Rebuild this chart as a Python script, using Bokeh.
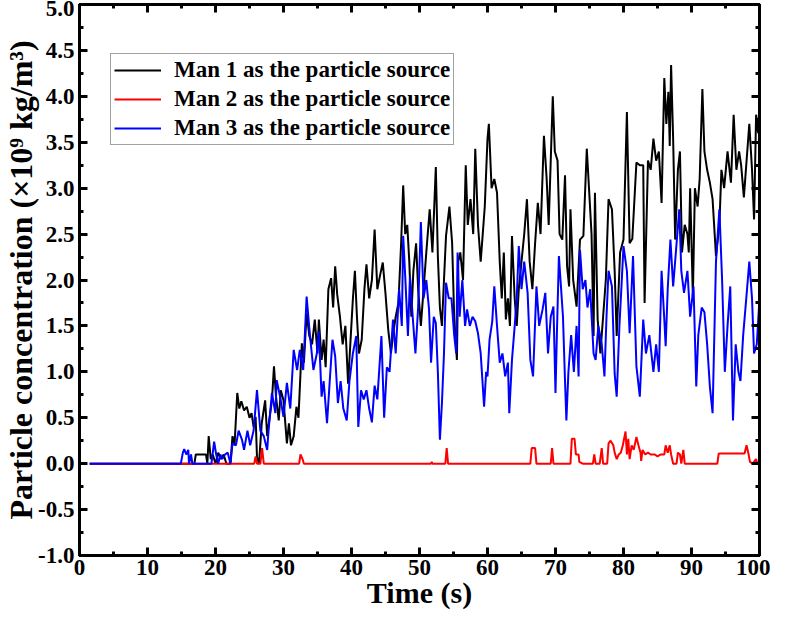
from bokeh.plotting import figure
from bokeh.models import (Range1d, LinearAxis, SingleIntervalTicker, NumeralTickFormatter,
                          CustomJSTickFormatter, Legend, LegendItem)
from bokeh.embed import file_html
from bokeh.resources import INLINE

# ---------------- data ----------------
series_names = ["Man 1 as the particle source",
                "Man 2 as the particle source",
                "Man 3 as the particle source"]

# Man 1 (black)
t1 = [1.5, 16.9, 17.1, 18.6, 18.8, 19.0, 19.3, 19.6, 20.0, 20.4, 20.8, 21.2, 21.6, 22.2,
      22.5, 22.8, 23.2, 23.5, 23.8, 24.2, 24.6, 25.0, 25.3, 25.6, 25.9, 26.1, 26.4, 26.8,
      27.3, 27.6, 27.9, 28.3, 28.6, 28.9, 29.3, 29.6, 30.0, 30.5, 30.8, 31.1, 31.5, 31.9,
      32.2, 32.7, 33.0, 33.4, 33.8, 34.2, 34.6, 35.0, 35.2, 35.6, 35.9, 36.2, 36.6, 37.0,
      37.3, 37.6, 37.9, 38.3, 38.7, 39.1, 39.5, 39.9, 40.2, 40.5, 40.8, 41.1, 41.5, 41.9,
      42.2, 42.6, 43.0, 43.4, 43.8, 44.2, 44.6, 45.0, 45.4, 45.8, 46.1, 46.5, 46.9, 47.3,
      47.6, 47.9, 48.2, 48.5, 48.8, 49.1, 49.5, 49.8, 50.2, 50.6, 51.0, 51.5, 51.9, 52.4,
      52.7, 53.0, 53.3, 53.6, 53.9, 54.4, 54.8, 55.1, 55.5, 55.7, 56.0, 56.4, 56.8, 57.1,
      57.5, 57.9, 58.2, 58.6, 59.0, 59.3, 59.6, 60.0, 60.2, 60.6, 61.0, 61.4, 61.8, 62.1,
      62.4, 62.7, 63.0, 63.3, 63.6, 64.0, 64.3, 64.6, 65.0, 65.4, 65.8, 66.2, 66.6, 67.0,
      67.4, 67.8, 68.3, 68.7, 69.0, 69.3, 69.6, 69.9, 70.3, 70.6, 71.0, 71.4, 71.7, 72.0,
      72.2, 72.6, 73.1, 73.6, 74.1, 74.6, 75.0, 75.3, 75.6, 75.8, 76.2, 76.6, 77.0, 77.4,
      77.8, 78.3, 78.7, 79.0, 79.5, 80.0, 80.5, 80.9, 81.3, 81.9, 82.4, 82.9, 83.1, 83.6,
      84.0, 84.4, 84.8, 85.2, 85.6, 86.0, 86.3, 86.6, 86.8, 87.0, 87.3, 87.6, 88.0, 88.3,
      88.6, 89.0, 89.4, 89.6, 89.8, 90.2, 90.5, 90.9, 91.2, 91.6, 91.9, 92.3, 92.7, 93.1,
      93.6, 94.1, 94.4, 94.8, 95.3, 95.8, 96.2, 96.6, 97.0, 97.3, 97.7, 98.1, 98.5, 98.9,
      99.2, 99.5, 99.8, 100.0]
v1 = [0.0, 0.0, 0.1, 0.1, 0.0, 0.3, 0.05, 0.1, 0.0, 0.12, 0.05, 0.1, 0.0, 0.0,
      0.3, 0.2, 0.77, 0.6, 0.68, 0.58, 0.62, 0.5, 0.55, 0.4, 0.51, 0.07, 0.0, 0.44,
      0.69, 0.3, 0.47, 0.69, 1.06, 0.73, 0.47, 0.8, 0.69, 0.22, 0.44, 0.2, 0.3, 0.62,
      0.5, 1.31, 1.1, 1.64, 1.39, 1.3, 1.57, 1.2, 1.57, 1.13, 1.35, 1.05, 1.9, 2.02,
      1.7, 2.15, 1.84, 1.6, 1.3, 1.5, 0.87, 1.4, 1.79, 2.1, 1.6, 1.2, 1.35, 1.9,
      2.17, 1.8, 2.0, 2.55, 1.9, 2.05, 2.19, 1.85, 1.46, 1.2, 1.4, 1.6, 1.75, 2.4,
      3.03, 2.5, 2.6, 2.2, 1.6, 2.1, 2.4, 1.9, 1.5, 1.9, 2.3, 2.77, 2.3, 3.23,
      2.26, 1.7, 1.5, 2.0, 2.48, 2.8, 2.4, 1.6, 1.13, 2.2, 2.3, 2.0, 3.25, 2.6,
      2.88, 2.5, 3.43, 2.6, 2.2, 2.5, 2.8, 3.54, 3.7, 3.0, 3.1, 2.95, 2.2, 1.8,
      2.3, 1.57, 1.8, 1.5, 2.48, 1.8, 1.5, 1.9, 2.2, 2.5, 2.88, 2.2, 1.9, 2.4,
      2.84, 2.5, 3.57, 3.1, 2.6, 3.3, 4.0, 3.4, 3.3, 2.5, 2.44, 3.14, 2.15, 1.93,
      2.77, 2.0, 1.71, 2.44, 2.48, 3.43, 2.9, 2.5, 1.39, 2.95, 1.57, 1.2, 1.6, 2.0,
      2.88, 2.77, 2.1, 1.39, 2.3, 2.44, 3.83, 2.4, 2.45, 3.28, 3.25, 3.25, 1.75, 3.3,
      3.2, 3.54, 3.3, 3.4, 2.84, 4.2, 3.7, 4.05, 3.46, 4.34, 3.54, 2.44, 3.2, 3.4,
      2.3, 2.6, 2.5, 2.3, 3.0, 1.82, 3.0, 2.8, 3.1, 4.08, 3.4, 3.2, 3.06, 2.88,
      2.26, 2.6, 3.2, 3.0, 3.4, 3.06, 3.8, 3.2, 3.4, 3.25, 2.9, 3.3, 3.7, 3.2,
      2.66, 3.8, 3.6, 3.9]

# Man 2 (red)
t2 = [1.5, 25.7, 25.9, 26.1, 26.6, 26.85, 27.1, 32.3, 32.5, 32.8, 33.0, 51.7, 51.8, 51.9,
      53.8, 54.0, 54.2, 66.3, 66.5, 67.0, 67.2, 69.3, 69.5, 69.7, 72.2, 72.4, 72.8, 73.0,
      73.4, 73.5, 74.0, 75.5, 75.7, 75.9, 76.5, 76.8, 77.0, 77.6, 77.8, 78.1, 78.5, 78.7,
      79.0, 79.3, 79.6, 79.9, 80.3, 80.5, 80.7, 80.9, 81.2, 81.5, 81.9, 82.2, 82.5, 82.6,
      82.8, 83.2, 83.6, 84.0, 84.6, 85.0, 85.5, 86.0, 86.2, 86.5, 86.8, 87.0, 87.3, 87.8,
      88.0, 88.3, 88.5, 88.8, 89.0, 93.8, 94.0, 97.8, 98.1, 98.4, 98.6, 99.0, 99.5, 99.7,
      100.0]
v2 = [0.0, 0.0, 0.08, 0.0, 0.0, 0.17, 0.0, 0.0, 0.1, 0.05, 0.0, 0.0, 0.02, 0.0,
      0.0, 0.17, 0.0, 0.0, 0.17, 0.17, 0.0, 0.0, 0.17, 0.0, 0.0, 0.27, 0.27, 0.1,
      0.1, 0.02, 0.0, 0.0, 0.1, 0.0, 0.0, 0.17, 0.0, 0.0, 0.22, 0.25, 0.2, 0.12,
      0.05, 0.1, 0.12, 0.2, 0.35, 0.1, 0.27, 0.05, 0.2, 0.15, 0.29, 0.2, 0.12, 0.03,
      0.15, 0.1, 0.12, 0.1, 0.1, 0.08, 0.1, 0.1, 0.2, 0.12, 0.2, 0.1, 0.0, 0.0,
      0.12, 0.1, 0.0, 0.15, 0.0, 0.0, 0.11, 0.11, 0.2, 0.1, 0.02, 0.0, 0.05, 0.0,
      0.0]

# Man 3 (blue)
t3 = [1.5, 14.9, 15.2, 15.4, 15.7, 16.0, 16.1, 16.4, 16.6, 19.4, 19.8, 20.1, 20.4, 20.7,
      21.0, 21.4, 21.8, 22.2, 22.5, 23.0, 23.4, 23.9, 24.2, 24.7, 25.1, 25.6, 26.1, 26.6,
      27.1, 27.6, 27.8, 28.3, 28.8, 29.0, 29.5, 30.0, 30.5, 31.0, 31.5, 32.0, 32.4, 32.9,
      33.4, 33.9, 34.4, 34.9, 35.2, 35.6, 35.9, 36.4, 36.8, 37.2, 37.6, 38.0, 38.4, 38.8,
      39.3, 39.7, 40.2, 40.7, 41.0, 41.4, 41.8, 42.2, 42.6, 43.0, 43.4, 43.8, 44.4, 44.8,
      45.2, 45.6, 46.1, 46.5, 47.0, 47.4, 47.6, 47.9, 48.3, 48.6, 49.0, 49.4, 49.8, 50.2,
      50.6, 51.0, 51.4, 51.7, 52.1, 52.4, 52.7, 53.0, 53.3, 53.6, 53.9, 54.3, 54.7, 55.1,
      55.4, 55.6, 55.9, 56.3, 56.7, 57.0, 57.4, 57.8, 58.2, 58.6, 59.0, 59.5, 59.8, 60.0,
      60.3, 60.7, 61.0, 61.4, 61.8, 62.2, 62.6, 63.0, 63.2, 63.6, 64.0, 64.3, 64.6, 65.0,
      65.4, 65.9, 66.3, 66.7, 67.2, 67.6, 68.1, 68.5, 68.9, 69.3, 69.7, 70.0, 70.2, 70.5,
      70.8, 71.1, 71.4, 71.6, 71.9, 72.3, 72.7, 73.1, 73.4, 73.6, 74.0, 74.4, 74.7, 75.1,
      75.6, 75.9, 76.3, 76.8, 77.2, 77.5, 77.8, 78.3, 78.7, 79.0, 79.4, 79.7, 80.0, 80.5,
      80.9, 81.4, 81.9, 82.4, 82.9, 83.3, 83.8, 84.4, 84.8, 85.2, 85.6, 86.0, 86.2, 86.5,
      86.9, 87.3, 87.7, 88.2, 88.5, 88.9, 89.4, 89.8, 90.3, 90.7, 91.0, 91.5, 91.9, 92.3,
      92.7, 93.1, 93.6, 94.1, 94.5, 94.9, 95.3, 95.7, 96.1, 96.5, 96.9, 97.2, 97.6, 98.0,
      98.5, 98.9, 99.2, 99.6, 100.0]
v3 = [0.0, 0.0, 0.12, 0.16, 0.1, 0.15, 0.0, 0.1, 0.0, 0.0, 0.24, 0.1, 0.0, 0.1,
      0.05, 0.1, 0.12, 0.0, 0.22, 0.2, 0.36, 0.26, 0.15, 0.36, 0.2, 0.36, 0.8, 0.36,
      0.3, 0.15, 0.36, 0.77, 0.55, 0.91, 0.73, 0.51, 0.88, 0.6, 1.24, 1.02, 1.24, 1.02,
      1.82, 1.39, 1.02, 1.2, 1.44, 0.73, 0.9, 0.44, 0.9, 1.35, 1.17, 0.66, 0.9, 0.6,
      0.47, 0.9, 1.2, 1.39, 0.4, 0.8, 0.7, 0.8, 0.6, 0.45, 0.85, 0.7, 1.39, 0.5,
      1.05, 1.0, 1.57, 1.2, 1.9, 1.5, 2.48, 2.04, 1.39, 2.04, 1.6, 1.2, 1.7, 2.63,
      1.8, 2.0, 1.68, 1.1, 1.6, 1.53, 1.0, 0.26, 0.66, 1.2, 1.97, 1.8, 1.8, 1.4,
      1.2, 2.3, 1.6, 2.0, 1.5, 1.68, 1.5, 1.6, 1.55, 1.42, 1.2, 0.62, 1.0, 0.95,
      1.35, 1.55, 1.93, 1.5, 1.1, 1.2, 0.95, 1.1, 0.55, 1.13, 1.5, 1.8, 2.37, 1.9,
      2.2, 1.86, 1.13, 0.95, 1.93, 1.5, 1.68, 1.86, 1.2, 1.6, 1.71, 0.77, 1.4, 2.26,
      1.93, 1.6, 0.9, 0.47, 1.0, 1.4, 1.0, 1.5, 0.95, 2.33, 1.9, 2.0, 1.7, 1.9,
      1.2, 1.13, 1.5, 1.3, 0.95, 1.6, 2.1, 1.93, 0.98, 0.73, 1.5, 1.93, 2.37, 2.1,
      1.42, 2.26, 1.06, 0.73, 1.57, 1.2, 1.4, 1.0, 1.3, 1.0, 2.1, 1.57, 1.28, 1.9,
      2.44, 1.93, 2.3, 2.77, 2.1, 1.86, 2.1, 1.6, 1.93, 0.84, 1.4, 1.7, 1.65, 1.3,
      0.84, 0.55, 2.2, 2.77, 2.0, 1.0, 1.5, 1.93, 0.47, 1.3, 1.0, 0.9, 1.4, 1.75,
      2.2, 1.8, 1.2, 1.3, 1.8]

x_lim = (0, 100)
y_lim = (-1.0, 5.0)
x_tick_step = 10
y_tick_step = 0.5
x_title = "Time (s)"
y_title = "Particle concentration (×10⁹ kg/m³)"

# ---------------- figure ----------------
FONT = "Liberation Serif"

p = figure(width=770, height=613, output_backend="svg", toolbar_location=None,
           x_range=Range1d(*x_lim), y_range=Range1d(*y_lim),
           min_border_left=75, min_border_right=11, min_border_top=4, min_border_bottom=58,
           x_axis_label=x_title, y_axis_label=y_title)

p.xgrid.visible = False
p.ygrid.visible = False
p.outline_line_color = "black"
p.outline_line_width = 3
p.background_fill_color = "white"
p.border_fill_color = "white"

p.xaxis.ticker = SingleIntervalTicker(interval=x_tick_step, num_minor_ticks=2)
p.yaxis.ticker = SingleIntervalTicker(interval=y_tick_step, num_minor_ticks=2)
p.yaxis.formatter = NumeralTickFormatter(format="0.0")


def style_axis(ax, labels=True):
    ax.axis_line_width = 3
    ax.axis_line_color = "black"
    ax.major_tick_in = 8
    ax.major_tick_out = 0
    ax.minor_tick_in = 4
    ax.minor_tick_out = 0
    ax.major_tick_line_width = 3
    ax.minor_tick_line_width = 3
    ax.major_tick_line_color = "black"
    ax.minor_tick_line_color = "black"
    ax.major_label_text_font = FONT
    ax.major_label_text_font_style = "bold"
    ax.major_label_text_color = "black"
    ax.axis_label_text_font = FONT
    ax.axis_label_text_font_style = "bold"
    ax.axis_label_text_color = "black"
    if labels:
        ax.major_label_text_font_size = "23px"
    else:
        ax.major_label_text_font_size = "0px"
        ax.major_label_standoff = 0
        ax.formatter = CustomJSTickFormatter(code="return ''")


for ax in p.xaxis:
    style_axis(ax)
    ax.axis_label_text_font_size = "30px"
    ax.major_label_standoff = 4
    ax.axis_label_standoff = -2
for ax in p.yaxis:
    style_axis(ax)
    ax.axis_label_text_font_size = "32px"
    ax.major_label_standoff = 5
    ax.axis_label_standoff = -4

# mirrored tick marks on the top and right edges
top_ax = LinearAxis(ticker=SingleIntervalTicker(interval=x_tick_step, num_minor_ticks=2))
right_ax = LinearAxis(ticker=SingleIntervalTicker(interval=y_tick_step, num_minor_ticks=2))
style_axis(top_ax, labels=False)
style_axis(right_ax, labels=False)
p.add_layout(top_ax, "above")
p.add_layout(right_ax, "right")

r1 = p.line(t1, v1, line_color="black", line_width=2)
r2 = p.line(t2, v2, line_color="#ff0000", line_width=2)
r3 = p.line(t3, v3, line_color="#0000ff", line_width=2)

legend = Legend(items=[LegendItem(label=series_names[0], renderers=[r1]),
                       LegendItem(label=series_names[1], renderers=[r2]),
                       LegendItem(label=series_names[2], renderers=[r3])],
                location=(31, 410))
legend.label_text_font = FONT
legend.label_text_font_style = "bold"
legend.label_text_font_size = "23px"
legend.label_text_color = "black"
legend.glyph_width = 47
legend.glyph_height = 26
legend.label_height = 26
legend.label_standoff = 13
legend.spacing = 3
legend.padding = 3
legend.margin = 0
legend.border_line_color = "#444444"
legend.border_line_width = 1
legend.background_fill_color = "white"
legend.background_fill_alpha = 1.0
p.add_layout(legend, "center")

open("out.html", "w").write(file_html(p, INLINE))
